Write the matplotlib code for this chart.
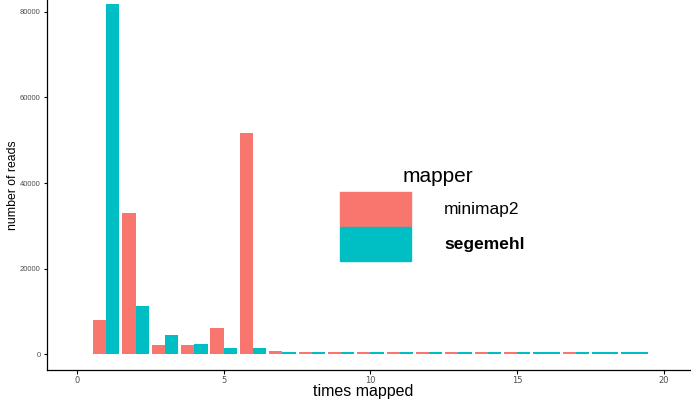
import numpy as np
import matplotlib
matplotlib.use("Agg")
import matplotlib.pyplot as plt
from matplotlib.patches import Patch

plt.rcParams["font.family"] = ["Liberation Sans", "DejaVu Sans"]

times = list(range(1, 20))
minimap2 = [8000, 33000, 2000, 2000, 6000, 51700, 800, 450, 450, 450, 450, 450, 450, 450, 450, None, 450, None, None]
segemehl = [81800, 11200, 4400, 2300, 1500, 1300, 450, 450, 450, 450, 450, 450, 450, 450, 450, 450, 450, 450, 450]

c_mm = "#F8766D"
c_seg = "#00BFC4"

fig = plt.figure(figsize=(6.91, 3.99), dpi=100)
ax = fig.add_axes([0.068, 0.073, 0.931, 0.927])

w = 0.45
for t, a, b in zip(times, minimap2, segemehl):
    if a is None:
        ax.bar(t, b, width=2 * w, color=c_seg, linewidth=0)
    else:
        ax.bar(t - w / 2, a, width=w, color=c_mm, linewidth=0)
        ax.bar(t + w / 2, b, width=w, color=c_seg, linewidth=0)

ax.set_xlim(-1.02, 20.9)
ax.set_ylim(-3700, 82800)
ax.set_xticks([0, 5, 10, 15, 20])
ax.set_yticks([0, 20000, 40000, 60000, 80000])
ax.tick_params(axis="x", labelsize=6, labelcolor="#4d4d4d", length=3, width=0.8, pad=1.5)
ax.tick_params(axis="y", labelsize=5.5, labelcolor="#4d4d4d", length=2.5, width=0.8, pad=2)
for lab in ax.get_xticklabels():
    lab.set_family("DejaVu Sans")
for s in ["top", "right"]:
    ax.spines[s].set_visible(False)
for s in ["left", "bottom"]:
    ax.spines[s].set_linewidth(0.9)

ax.set_xlabel("times mapped", fontsize=11.5)
ax.set_ylabel("number of reads", fontsize=8.8)
ax.xaxis.set_label_coords(0.491, -0.038)
ax.yaxis.set_label_coords(-0.043, 0.5)

handles = [Patch(color=c_mm), Patch(color=c_seg)]
leg = fig.legend(handles, ["minimap2", "segemehl"],
                 loc="upper left", bbox_to_anchor=(340 / 691, 1 - 192 / 399), frameon=False,
                 fontsize=12.5, handlelength=4.1, handleheight=2.6,
                 handletextpad=1.9, labelspacing=0.08, borderpad=0, borderaxespad=0)
leg.get_texts()[1].set_fontweight("bold")
fig.text(438 / 691, 1 - 176 / 399, "mapper", fontsize=15, ha="center", va="center")

fig.savefig("out.png", dpi=100)
